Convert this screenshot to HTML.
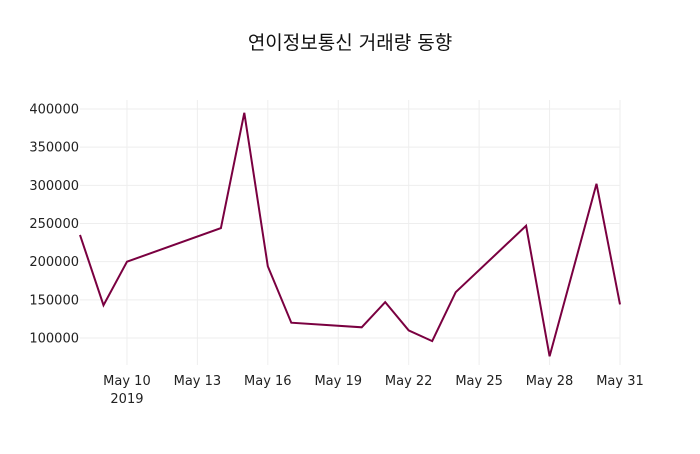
<!DOCTYPE html>
<html><head><meta charset="utf-8">
<style>
body{margin:0;background:#fff;font-family:"DejaVu Sans","Noto Sans CJK KR",sans-serif;}
svg text{font-family:"DejaVu Sans","Noto Sans CJK KR",sans-serif;fill:#222;font-size:13px;}
</style></head>
<body>
<svg id="chart" width="700" height="450">
<text x="350" y="49" text-anchor="middle" style="font-size:19px;fill:#111">연이정보통신 거래량 동향</text>
<g id="grid"></g>
<g id="axes"></g>
<path id="line" fill="none" stroke="#7a0040" stroke-width="2"></path>
</svg>
<script>
const dates=["2019-05-08","2019-05-09","2019-05-10","2019-05-14","2019-05-15","2019-05-16","2019-05-17","2019-05-20","2019-05-21","2019-05-22","2019-05-23","2019-05-24","2019-05-27","2019-05-28","2019-05-30","2019-05-31"];
const volumes=[235000,143000,200000,244000,395000,194000,120000,114000,147000,110000,96000,160000,247000,76000,302000,144000];
const yTicks=[100000,150000,200000,250000,300000,350000,400000];
const xTickDates=["2019-05-10","2019-05-13","2019-05-16","2019-05-19","2019-05-22","2019-05-25","2019-05-28","2019-05-31"];
const xTickLabels=["May 10","May 13","May 16","May 19","May 22","May 25","May 28","May 31"];

const x0=Date.parse("2019-05-08"),x1=Date.parse("2019-05-31");
const L=80,R=620,T=100,B=365;
function xs(d){return L+(Date.parse(d)-x0)/(x1-x0)*(R-L);}
function ys(v){return 338-(v-100000)*(229/300000);}
const ns="http://www.w3.org/2000/svg";
const grid=document.getElementById('grid'),axes=document.getElementById('axes');
function mk(tag,attrs,parent){const e=document.createElementNS(ns,tag);for(const k in attrs)e.setAttribute(k,attrs[k]);parent.appendChild(e);return e;}
yTicks.forEach(v=>{
  const y=ys(v);
  const g=mk('line',{x1:L,x2:R,y1:y,y2:y,stroke:'#eee','stroke-width':1},grid);
  
  
  const t=mk('text',{x:L-1,y:y+4.5,'text-anchor':'end'},axes);
  t.textContent=v;
  
  
});
xTickDates.forEach((d,i)=>{
  const x=xs(d);
  const g=mk('line',{x1:x,x2:x,y1:T,y2:B,stroke:'#eee','stroke-width':1},grid);
  
  
  const t=mk('text',{x:x,y:385,'text-anchor':'middle'},axes);
  t.textContent=xTickLabels[i];
  
  
});
const yr=mk('text',{x:xs(xTickDates[0]),y:403,'text-anchor':'middle'},axes);
yr.textContent="2019";


document.getElementById('line').setAttribute('d',dates.map((d,i)=>(i?'L':'M')+xs(d).toFixed(1)+','+ys(volumes[i]).toFixed(1)).join(' '));
</script>
</body></html>
